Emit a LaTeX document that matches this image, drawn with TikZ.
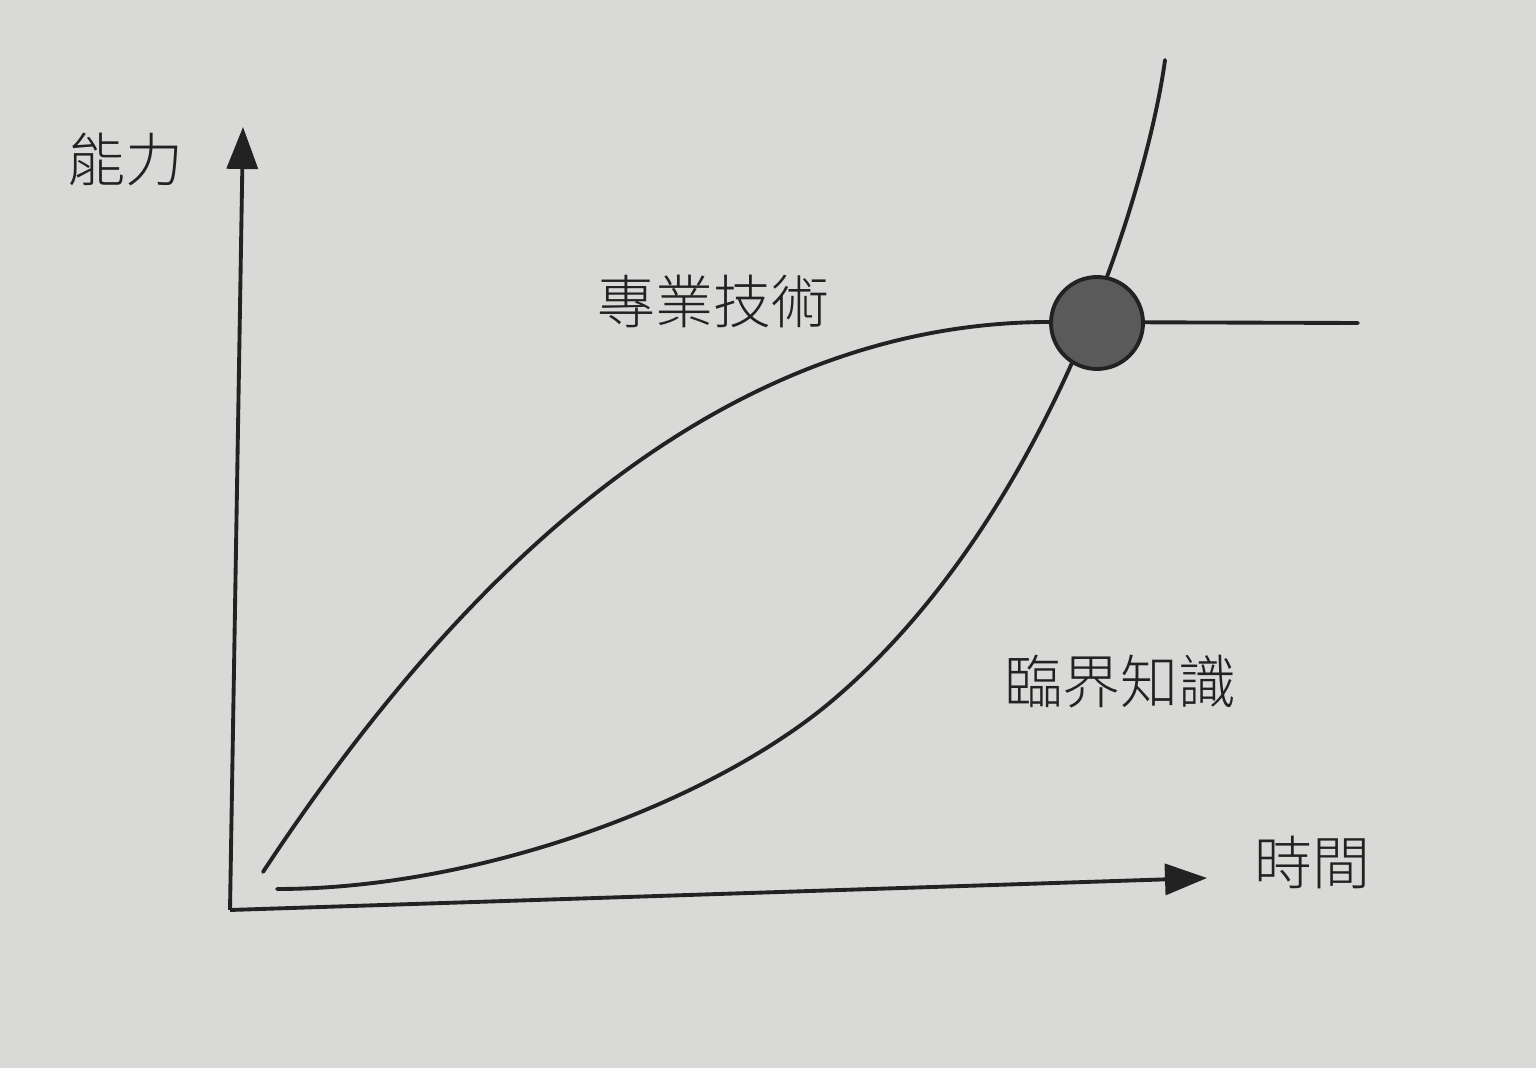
\documentclass[tikz,border=0pt]{standalone}
\usepackage{fontspec}
\newfontfamily\cjk{Noto Sans CJK TC}[UprightFont={* Light}]
\usetikzlibrary{arrows.meta}
\definecolor{paper}{HTML}{D9D9D7}
\definecolor{ink}{HTML}{222222}
\definecolor{dotgray}{HTML}{5A5A5A}
\begin{document}
\begin{tikzpicture}
[axisDecorate/.style={draw=ink,line width=1.1pt,-{Triangle[length=4.2mm,width=3.1mm]}},%
  curveDecorate/.style={draw=ink,line width=1.1pt,line cap=round},%
  labelDecorate/.style={text=ink,font=\cjk\fontsize{16.5pt}{18pt}\selectfont,inner sep=0pt},%
  dotDecorate/.style={shape=circle,minimum size=9.2mm,inner sep=0pt,fill=dotgray,draw=ink,line width=1.1pt}]
\fill[paper] (0,0) rectangle (15.36,10.68);
\useasboundingbox (0,0) rectangle (15.36,10.68);
%% axes
\coordinate (origin) at (2.30,1.58);
\coordinate (ytip) at (2.43,9.41);
\coordinate (xtip) at (12.07,1.90);
\draw[axisDecorate] (origin) -- (ytip);
\draw[axisDecorate] (origin) -- (xtip);
%% curves
\coordinate (skillstart) at (2.63,1.96);
\coordinate (skilltop) at (10.50,7.46);
\coordinate (skillend) at (13.58,7.45);
\coordinate (knowstart) at (2.77,1.79);
\coordinate (knowmid) at (8.33,3.68);
\coordinate (knowend) at (11.65,10.08);
\draw[curveDecorate] (skillstart) .. controls (4.60,4.95) and (7.20,7.46) .. (skilltop) -- (skillend);
\draw[curveDecorate] (knowstart) .. controls (4.80,1.79) and (7.13,2.66) .. (knowmid)
  .. controls (10.53,5.55) and (11.49,8.88) .. (knowend);
%% crossing point
\node (cross) at (10.97,7.45) [dotDecorate] {};
%% labels
\foreach \nodename/\x/\y/\labeltext in {ability/1.25/9.08/能力, time/13.12/2.06/時間,
  skill/7.13/7.66/專業技術, knowledge/11.20/3.86/臨界知識} {
  \node (\nodename) at (\x,\y) [labelDecorate] {\labeltext};
}
\end{tikzpicture}
\end{document}
